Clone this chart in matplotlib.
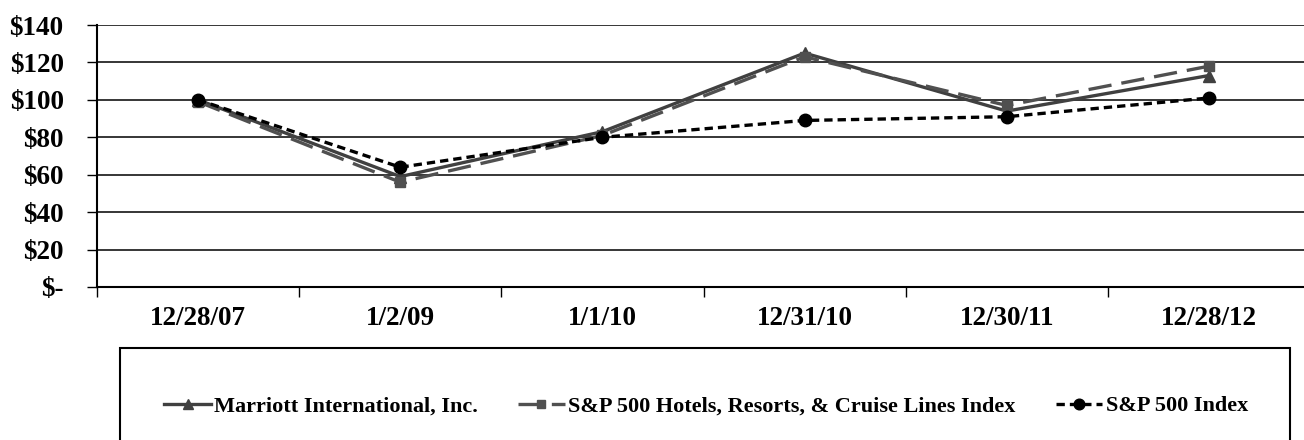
import matplotlib
matplotlib.use("Agg")
import matplotlib.pyplot as plt
import numpy as np
from matplotlib.patches import Rectangle

dates = ["12/28/07", "1/2/09", "1/1/10", "12/31/10", "12/30/11", "12/28/12"]
marriott = [100, 59, 83, 125, 94, 113]
hotels = [99, 56, 81, 123, 97, 118]
sp500 = [100, 64, 80, 89, 91, 101]
yticks = [0, 20, 40, 60, 80, 100, 120, 140]
ytick_labels = ["$-", "$20", "$40", "$60", "$80", "$100", "$120", "$140"]

plt.rcParams['font.family'] = ['Liberation Serif', 'DejaVu Serif']
plt.rcParams['font.weight'] = 'bold'

W, H = 1304, 440
fig = plt.figure(figsize=(W/100, H/100), dpi=100)
ax = fig.add_axes([97/W, (H-287)/H, 1213/W, 262/H])

x = np.arange(len(dates))
ax.plot(x, marriott, color="#404040", lw=2.4, ls='-', marker='^', ms=8, label="Marriott International, Inc.", zorder=3)
ax.plot(x, hotels, color="#505050", lw=2.4, ls=(0, (7, 3)), marker='s', ms=7, label="S&P 500 Hotels, Resorts, & Cruise Lines Index", zorder=3)
ax.plot(x, sp500, color="black", lw=2.4, ls=(0, (2.5, 1.5)), marker='o', ms=9, label="S&P 500 Index", zorder=4)

ax.set_xlim(-0.5, len(dates) - 0.5)
ax.set_ylim(0, 140)
ax.set_yticks(yticks)
ax.set_yticklabels(ytick_labels, fontsize=19.5, fontweight='bold')
ax.yaxis.grid(True, color='black', lw=1.1)
ax.set_axisbelow(True)
ax.set_xticks(x)
ax.set_xticklabels(dates, fontsize=19.5, fontweight='bold')
ax.set_xticks(np.arange(-0.5, len(dates) + 0.5, 1), minor=True)
ax.tick_params(axis='x', which='major', length=0, pad=14)
ax.tick_params(axis='x', which='minor', length=7, width=1, color='black')
ax.tick_params(axis='y', length=7, width=1, pad=17)
for s in ['top', 'right']:
    ax.spines[s].set_visible(False)
for s in ['left', 'bottom']:
    ax.spines[s].set_linewidth(1.5)

fig.patches.append(Rectangle((120/W, -0.05), (1290-120)/W, 0.05 + (H-348)/H,
                             transform=fig.transFigure, fill=False, ec='black', lw=1.5))
handles, labels = ax.get_legend_handles_labels()
fig.legend(handles, labels, loc='center', bbox_to_anchor=(706/W, (H-406)/H), ncol=3,
           frameon=False, prop={'weight': 'bold', 'size': 16},
           handlelength=2.1, handletextpad=0.15, columnspacing=1.8, markerscale=0.85)

fig.savefig("out.png", dpi=100)
